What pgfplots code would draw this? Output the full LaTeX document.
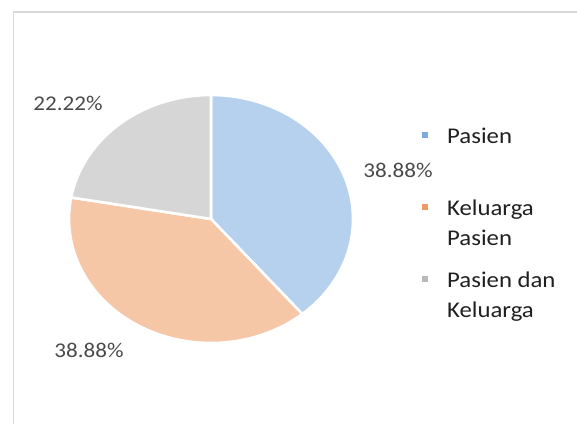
\documentclass[border=0pt]{standalone}
\usepackage{pgfplots}
\pgfplotsset{compat=1.18}
\usepackage{pgfplotstable}
\usepackage{fontspec}
\setmainfont{Carlito}
\newfontfamily\chartfont[FakeStretch=1.1]{Carlito}
\definecolor{cblue}{HTML}{B6D1EE}
\definecolor{corange}{HTML}{F6C7A7}
\definecolor{cgray}{HTML}{D6D6D6}
\definecolor{kblue}{HTML}{7BAAE0}
\definecolor{korange}{HTML}{EE9A62}
\definecolor{kgray}{HTML}{B9B9B9}
\definecolor{framegray}{HTML}{D9D9D9}
\definecolor{labtext}{HTML}{4A4A4A}
\definecolor{legtext}{HTML}{202020}
\pgfplotstableread{
label value
Pasien 38.88
KeluargaPasien 38.88
PasienDanKeluarga 22.22
}\piedata
\begin{document}
\begin{tikzpicture}
\useasboundingbox (0pt,0pt) rectangle (577pt,-423pt);
\clip (0pt,0pt) rectangle (577pt,-423pt);
\draw[color=framegray, line width=1.4pt] (13.5pt,-12pt) rectangle (640pt,-470pt);
\pgfplotstablegetelem{0}{value}\of\piedata \let\va\pgfplotsretval
\pgfplotstablegetelem{1}{value}\of\piedata \let\vb\pgfplotsretval
\pgfplotstablegetelem{2}{value}\of\piedata \let\vc\pgfplotsretval
\pgfmathsetmacro\tot{\va+\vb+\vc}
\pgfmathsetmacro\aA{90}
\pgfmathsetmacro\aB{90-360*\va/\tot}
\pgfmathsetmacro\aC{\aB-360*\vb/\tot}
\pgfmathsetmacro\aD{\aC-360*\vc/\tot}
\begin{axis}[at={(211pt,-219pt)}, anchor=center, scale only axis,
  width=284pt, height=248pt, xmin=-1, xmax=1, ymin=-1, ymax=1,
  hide axis, clip=false]
\addplot[fill=cblue, draw=white, line width=2.6pt, line join=round, domain=\aB:\aA, samples=150, variable=\t]
  ({cos(\t)},{sin(\t)}) -- (axis cs:0,0) -- cycle;
\addplot[fill=corange, draw=white, line width=2.6pt, line join=round, domain=\aC:\aB, samples=150, variable=\t]
  ({cos(\t)},{sin(\t)}) -- (axis cs:0,0) -- cycle;
\addplot[fill=cgray, draw=white, line width=2.6pt, line join=round, domain=\aD:\aC, samples=100, variable=\t]
  ({cos(\t)},{sin(\t)}) -- (axis cs:0,0) -- cycle;
\end{axis}
% data labels
\begin{scope}[every node/.style={font=\chartfont\fontsize{21}{25}\selectfont, text=labtext, inner sep=0pt}]
\node[anchor=base] at (68pt,-110pt) {22.22\%};
\node[anchor=base] at (398pt,-177pt) {38.88\%};
\node[anchor=base] at (89pt,-357pt) {38.88\%};
\end{scope}
% legend
\begin{scope}[every node/.style={font=\chartfont\fontsize{22.5}{27}\selectfont, text=legtext, inner sep=0pt, anchor=base west}]
\node at (447pt,-143pt) {Pasien};
\node at (447pt,-215pt) {Keluarga};
\node at (447pt,-245pt) {Pasien};
\node at (447pt,-287pt) {Pasien dan};
\node at (447pt,-317pt) {Keluarga};
\end{scope}
\node[fill=kblue, minimum size=6pt, inner sep=0pt] at (424.5pt,-134.5pt) {};
\node[fill=korange, minimum size=6pt, inner sep=0pt] at (424.5pt,-206.5pt) {};
\node[fill=kgray, minimum size=6pt, inner sep=0pt] at (424.5pt,-278.5pt) {};
\end{tikzpicture}
\end{document}
